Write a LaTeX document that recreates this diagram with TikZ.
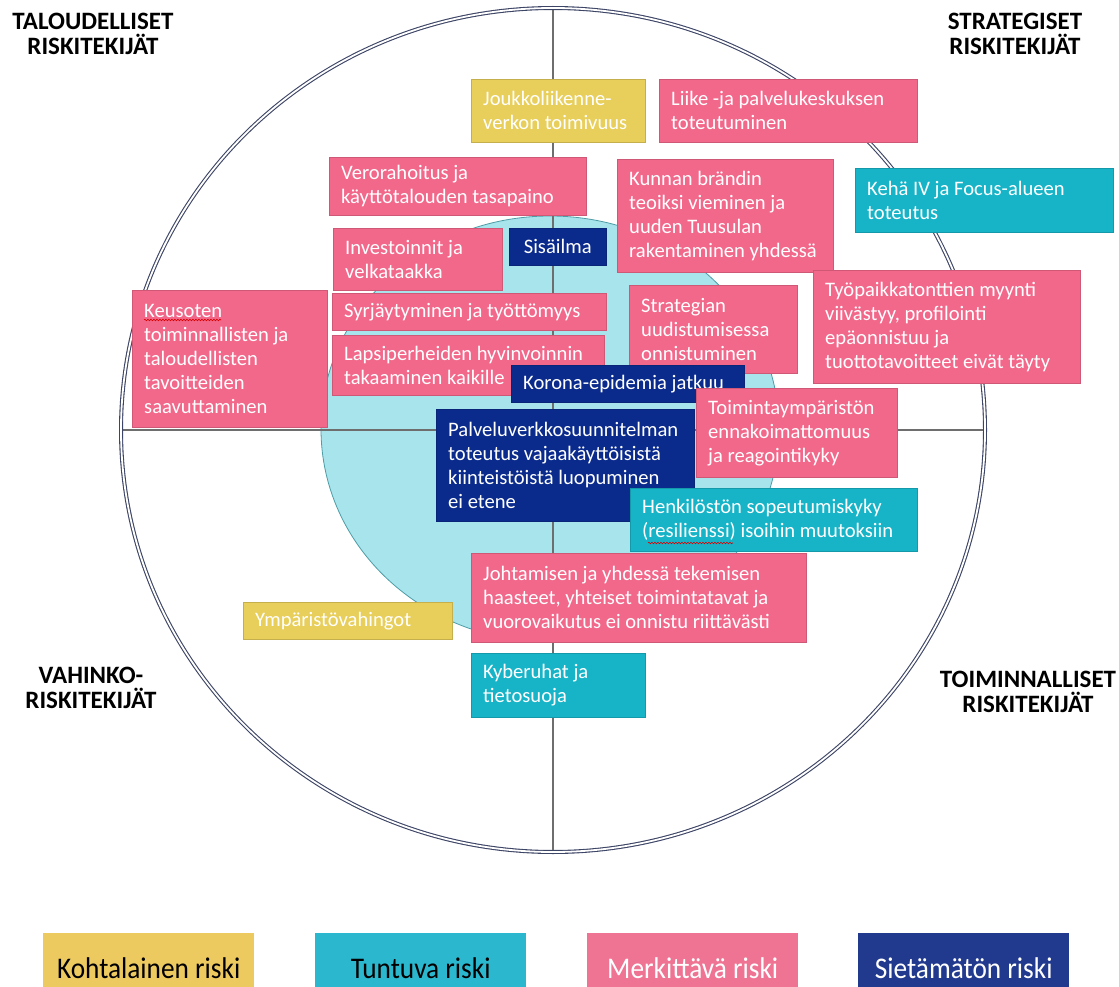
\documentclass[tikz,border=0pt]{standalone}
\usepackage{fontspec}
\setmainfont{Carlito}
\newfontfamily\legfont[FakeStretch=0.91]{Carlito}
\usetikzlibrary{decorations.pathmorphing}
\definecolor{pinkR}{HTML}{F2688B}
\definecolor{navyR}{HTML}{0B2B8C}
\definecolor{cyanR}{HTML}{17B4C8}
\definecolor{yellowR}{HTML}{E8CE5A}
\definecolor{legY}{HTML}{EDCA60}
\definecolor{legC}{HTML}{2BB8CF}
\definecolor{legP}{HTML}{EF7493}
\definecolor{legN}{HTML}{223A8E}
\definecolor{lightC}{HTML}{A8E4EC}
\definecolor{ellEdge}{HTML}{4E9DA6}
\definecolor{circEdge}{HTML}{3D4566}
\definecolor{axisG}{HTML}{6E6E6E}
\tikzset{
  rb/.style={draw=#1!85!black, fill=#1, line width=0.5pt, inner sep=0pt, anchor=north west},
  btext/.style={text=white, align=left, inner sep=0pt, font=\fontsize{20.6}{24}\selectfont},
  corner/.style={align=center, inner sep=0pt, font=\fontsize{25}{25}\selectfont\bfseries},
  legbox/.style={fill=#1, inner sep=0pt, anchor=north west, minimum width=211pt, minimum height=70pt,
    font=\legfont\fontsize{30}{30}\selectfont},
  circline/.style={draw=circEdge, line width=1.1pt, double=white, double distance=1.8pt},
  axisline/.style={draw=axisG, line width=1.2pt},
  spell/.style={draw=red!85!black, line width=0.6pt, decorate,
    decoration={snake, amplitude=0.8pt, segment length=3pt}}
}
\newcommand\rbox[7]{%
  \pgfmathsetmacro\bw{#5-#3}%
  \pgfmathsetmacro\bh{#6-#4}%
  \node[rb=#2, minimum width=\bw pt, minimum height=\bh pt] (#1) at (#3,#4) {};
  \node[btext, anchor=west] (#1-t) at ([xshift=12pt]#1.west) {#7};
}
\begin{document}
\begin{tikzpicture}[x=1pt,y=-1pt]
\useasboundingbox (0,0) rectangle (1119,987);
% inner ellipse
\fill[lightC, draw=ellEdge, line width=0.8pt] (550,429) ellipse [x radius=229pt, y radius=213pt];
% axes
\coordinate (axT) at (553,8);
\coordinate (axB) at (553,852);
\coordinate (axL) at (121,430);
\coordinate (axR) at (985,430);
\draw[axisline] (axT) -- (axB);
\draw[axisline] (axL) -- (axR);
% outer circle
\draw[circline] (553,430) ellipse [x radius=432pt, y radius=422pt];
% corner labels
\node[corner] (lt) at (93,34) {TALOUDELLISET\\RISKITEKIJÄT};
\node[corner] (rt) at (1015,34) {STRATEGISET\\RISKITEKIJÄT};
\node[corner] (lb) at (91,688) {VAHINKO-\\RISKITEKIJÄT};
\node[corner] (rbl) at (1028,692) {TOIMINNALLISET\\RISKITEKIJÄT};
% risk boxes
\rbox{jouk}{yellowR}{471}{79}{645}{142}{Joukkoliikenne-\\verkon toimivuus}
\rbox{liike}{pinkR}{659}{79}{917}{142}{Liike -ja palvelukeskuksen\\toteutuminen}
\rbox{vero}{pinkR}{329}{157}{586}{215}{Verorahoitus ja\\käyttötalouden tasapaino}
\rbox{kunnan}{pinkR}{617}{159}{833}{272}{Kunnan brändin\\teoiksi vieminen ja\\uuden Tuusulan\\rakentaminen yhdessä}
\rbox{keha}{cyanR}{855}{168}{1113}{232}{Kehä IV ja Focus-alueen\\toteutus}
\rbox{inv}{pinkR}{333}{228}{502}{290}{Investoinnit ja\\velkataakka}
\node[rb=navyR, minimum width=97pt, minimum height=37pt] (sis) at (509,228) {};
\node[btext] (sis-t) at (sis.center) {Sisäilma};
\rbox{tyo}{pinkR}{813}{270}{1080}{383}{Työpaikkatonttien myynti\\viivästyy, profilointi\\epäonnistuu ja\\tuottotavoitteet eivät täyty}
\rbox{strat}{pinkR}{629}{285}{797}{373}{Strategian\\uudistumisessa\\onnistuminen}
\rbox{keu}{pinkR}{132}{290}{327}{427}{Keusoten\\toiminnallisten ja\\taloudellisten\\tavoitteiden\\saavuttaminen}
\rbox{syr}{pinkR}{332}{293}{606}{330}{Syrjäytyminen ja työttömyys}
\rbox{lapsi}{pinkR}{332}{335}{604}{395}{Lapsiperheiden hyvinvoinnin\\takaaminen kaikille}
\rbox{korona}{navyR}{511}{365}{744}{402}{Korona-epidemia jatkuu}
\rbox{toim}{pinkR}{696}{388}{897}{477}{Toimintaympäristön\\ennakoimattomuus\\ja reagointikyky}
\rbox{palv}{navyR}{436}{409}{694}{521}{Palveluverkkosuunnitelman\\toteutus vajaakäyttöisistä\\kiinteistöistä luopuminen\\ei etene}
\rbox{henk}{cyanR}{630}{488}{917}{551}{Henkilöstön sopeutumiskyky\\(resilienssi) isoihin muutoksiin}
\rbox{joht}{pinkR}{471}{553}{806}{642}{Johtamisen ja yhdessä tekemisen\\haasteet, yhteiset toimintatavat ja\\vuorovaikutus ei onnistu riittävästi}
\rbox{ymp}{yellowR}{243}{602}{452}{639}{Ympäristövahingot}
\rbox{kyb}{cyanR}{471}{653}{645}{717}{Kyberuhat ja\\tietosuoja}
% spell-check underlines
\draw[spell] (144,320) -- (221,320);
\draw[spell] (648,543) -- (733,543);
% legend
\node[legbox=legY] (lgk) at (43,933) {Kohtalainen riski};
\node[legbox=legC] (lgt) at (315,933) {Tuntuva riski};
\node[legbox=legP, text=white] (lgm) at (587,933) {Merkittävä riski};
\node[legbox=legN, text=white] (lgs) at (858,933) {Sietämätön riski};
\end{tikzpicture}
\end{document}
